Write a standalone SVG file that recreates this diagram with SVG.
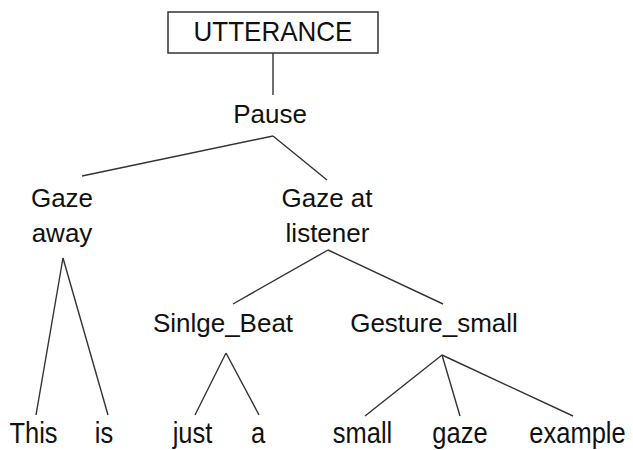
<svg xmlns="http://www.w3.org/2000/svg" width="633" height="450" viewBox="0 0 633 450">
<style>
text{font-family:"Liberation Sans",Arial,sans-serif;font-size:26px;fill:#111;text-anchor:middle}
.leaf{font-size:25.5px}
.c line{stroke:#333;stroke-width:1.4;fill:none}
.box{fill:#fff;stroke:#333;stroke-width:1.5}
</style>
<rect width="633" height="450" fill="#fff"/>
<g class="c" id="connectors">
<line x1="273" y1="53" x2="273" y2="95"/>
<line x1="273" y1="136" x2="82" y2="176"/>
<line x1="273" y1="136" x2="327" y2="180"/>
<line x1="63" y1="258" x2="36" y2="415"/>
<line x1="63" y1="258" x2="108" y2="415"/>
<line x1="328" y1="250" x2="233" y2="304"/>
<line x1="328" y1="250" x2="443" y2="304"/>
<line x1="226" y1="353" x2="195" y2="415"/>
<line x1="226" y1="353" x2="259" y2="415"/>
<line x1="442" y1="355" x2="365" y2="416"/>
<line x1="442" y1="355" x2="460" y2="416"/>
<line x1="442" y1="355" x2="573" y2="416"/>
</g>
<g id="utterance"><rect class="box" x="168" y="12" width="210" height="41"/><text transform="translate(273,41) scale(1,1.08)">UTTERANCE</text></g>
<g id="pause"><text x="270" y="123">Pause</text></g>
<g id="gaze-away"><text x="62" y="207">Gaze</text><text x="62" y="242">away</text></g>
<g id="gaze-at-listener"><text x="327" y="207">Gaze at</text><text x="327.5" y="242">listener</text></g>
<g id="single-beat"><text x="223" y="332">Sinlge_Beat</text></g>
<g id="gesture-small"><text x="434" y="332">Gesture_small</text></g>
<g id="w-this"><text class="leaf" transform="translate(33.5,443) scale(1,1.15)">This</text></g>
<g id="w-is"><text class="leaf" transform="translate(104,443) scale(1,1.15)">is</text></g>
<g id="w-just"><text class="leaf" transform="translate(192.5,443) scale(1,1.15)">just</text></g>
<g id="w-a"><text class="leaf" transform="translate(258,443) scale(1,1.15)">a</text></g>
<g id="w-small"><text class="leaf" transform="translate(362.5,443) scale(1,1.15)">small</text></g>
<g id="w-gaze"><text class="leaf" transform="translate(460,443) scale(1,1.15)">gaze</text></g>
<g id="w-example"><text class="leaf" transform="translate(577.5,443) scale(1,1.15)">example</text></g>
</svg>
